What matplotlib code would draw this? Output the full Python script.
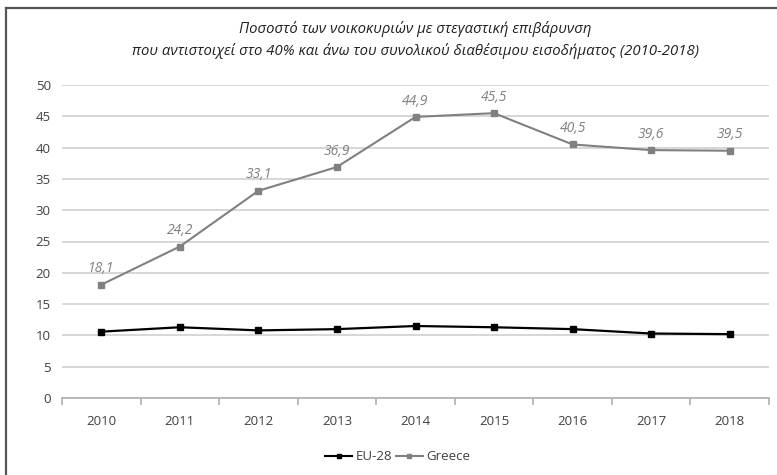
import matplotlib
matplotlib.use("Agg")
import matplotlib.pyplot as plt
from matplotlib.lines import Line2D

years = ["2010", "2011", "2012", "2013", "2014", "2015", "2016", "2017", "2018"]
eu28 = [10.6, 11.3, 10.8, 11.0, 11.5, 11.3, 11.0, 10.3, 10.2]
greece = [18.1, 24.2, 33.1, 36.9, 44.9, 45.5, 40.5, 39.6, 39.5]
greece_labels = ["18,1", "24,2", "33,1", "36,9", "44,9", "45,5", "40,5", "39,6", "39,5"]
yticks = [0, 5, 10, 15, 20, 25, 30, 35, 40, 45, 50]
title = ("Ποσοστό των νοικοκυριών με στεγαστική επιβάρυνση\n"
         "που αντιστοιχεί στο 40% και άνω του συνολικού διαθέσιμου εισοδήματος (2010-2018)")

plt.rcParams['font.family'] = ['Open Sans', 'DejaVu Sans']

W, H = 777, 475
fig = plt.figure(figsize=(W / 100, H / 100), dpi=100)
ax = fig.add_axes([62 / W, 1 - 398 / H, (769 - 62) / W, (398 - 85) / H])

x = list(range(len(years)))
ax.plot(x, eu28, color="black", lw=1.6, marker="s", ms=4, label="EU-28", zorder=3)
ax.plot(x, greece, color="#808080", lw=1.5, marker="s", ms=4, label="Greece", zorder=3)

for xi, v, lab in zip(x, greece, greece_labels):
    ax.annotate(lab, (xi, v), xytext=(0, 6), textcoords="offset points",
                ha="center", va="bottom", fontsize=10, style="italic", color="#808080")

ax.set_xlim(-0.5, len(years) - 0.5)
ax.set_ylim(0, 50)
ax.set_yticks(yticks)
ax.set_yticklabels([str(t) for t in yticks])
ax.set_xticks(x)
ax.set_xticklabels(years)
ax.set_xticks([i - 0.5 for i in range(len(years) + 1)], minor=True)
ax.grid(axis="y", color="#d0d0d0", lw=1.2)
ax.set_axisbelow(True)
for s in ["top", "right", "left"]:
    ax.spines[s].set_visible(False)
ax.spines["bottom"].set_color("#b0b0b0")
ax.spines["bottom"].set_linewidth(1.2)
ax.tick_params(axis="y", length=0, pad=8, labelsize=9.5, labelcolor="#404040")
ax.tick_params(axis="x", which="major", length=0, pad=12, labelsize=9.5, labelcolor="#404040")
ax.tick_params(axis="x", which="minor", length=5, width=1.2, color="#b0b0b0", direction="out")

fig.text(415 / W, 1 - 40 / H, title, ha="center", va="center", fontsize=10.7,
         style="italic", color="#202020", linespacing=1.45)

handles = [Line2D([], [], color="black", lw=1.5, marker="s", ms=3),
           Line2D([], [], color="#808080", lw=1.5, marker="s", ms=3)]
fig.legend(handles, ["EU-28", "Greece"], loc="center", bbox_to_anchor=(398 / W, 1 - 457 / H),
           ncol=2, frameon=False, fontsize=9.5, handlelength=2, handletextpad=0.3,
           columnspacing=0.3, labelcolor="#404040")

# figure border (left and top visible)
fig.add_artist(Line2D([6 / W, 6 / W], [0, 1 - 8 / H], color="#555555", lw=1.6,
                      transform=fig.transFigure))
fig.add_artist(Line2D([6 / W, 1], [1 - 8 / H, 1 - 8 / H], color="#555555", lw=1.6,
                      transform=fig.transFigure))

fig.savefig("out.png", dpi=100)
